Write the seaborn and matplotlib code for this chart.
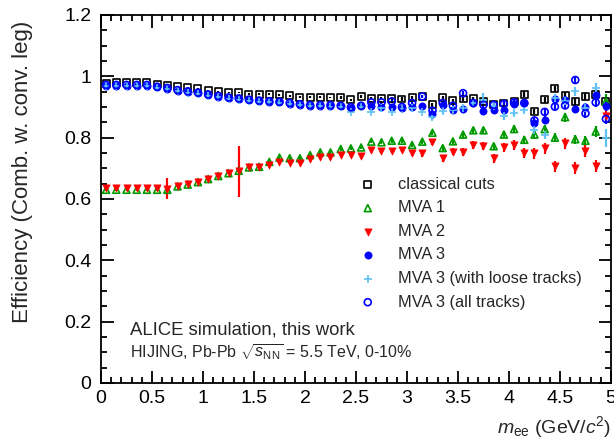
"""   Pair efficiency (combination with a conversion leg) vs m_ee for several selections   """
import matplotlib
matplotlib.use('Agg')
import matplotlib.pyplot as plt
import matplotlib.ticker as ticker
import seaborn as sns


# ~~~~~~~  Data   ~~~~~ ~~~~~~ ~~~~~~~ ~~~~~~~~~ ~~~~~~~~~~~~~ ~~~~~~~ ~ #
# bin centres in m_ee (GeV/c^2)
mass = [0.05, 0.15, 0.25, 0.35, 0.45, 0.55, 0.65, 0.75, 0.85, 0.95,
        1.05, 1.15, 1.25, 1.35, 1.45, 1.55, 1.65, 1.75, 1.85, 1.95,
        2.05, 2.15, 2.25, 2.35, 2.45, 2.55, 2.65, 2.75, 2.85, 2.95,
        3.05, 3.15, 3.25, 3.35, 3.45, 3.55, 3.65, 3.75, 3.85, 3.95,
        4.05, 4.15, 4.25, 4.35, 4.45, 4.55, 4.65, 4.75, 4.85, 4.95]

classical = [0.977, 0.979, 0.979, 0.979, 0.979, 0.975, 0.971, 0.966, 0.962, 0.960,
             0.953, 0.950, 0.948, 0.947, 0.942, 0.941, 0.942, 0.940, 0.937, 0.932,
             0.932, 0.932, 0.931, 0.931, 0.923, 0.934, 0.929, 0.929, 0.929, 0.926,
             0.932, 0.934, 0.907, 0.931, 0.921, 0.926, 0.927, 0.918, 0.907, 0.913,
             0.918, 0.942, 0.886, 0.924, 0.960, 0.937, 0.918, 0.935, 0.940, 0.917]
err_classical = [0.002, 0.002, 0.002, 0.002, 0.002, 0.002, 0.002, 0.002, 0.002, 0.002,
                 0.002, 0.002, 0.002, 0.003, 0.003, 0.003, 0.003, 0.003, 0.003, 0.003,
                 0.003, 0.003, 0.003, 0.004, 0.004, 0.004, 0.004, 0.004, 0.005, 0.005,
                 0.005, 0.005, 0.006, 0.006, 0.006, 0.007, 0.007, 0.007, 0.008, 0.008,
                 0.008, 0.009, 0.009, 0.010, 0.010, 0.011, 0.011, 0.012, 0.012, 0.013]

mva1 = [0.630, 0.630, 0.630, 0.630, 0.630, 0.630, 0.630, 0.641, 0.647, 0.655,
        0.665, 0.675, 0.684, 0.692, 0.703, 0.705, 0.721, 0.735, 0.733, 0.733,
        0.743, 0.752, 0.752, 0.763, 0.765, 0.768, 0.787, 0.785, 0.790, 0.790,
        0.776, 0.787, 0.816, 0.766, 0.788, 0.810, 0.824, 0.824, 0.772, 0.810,
        0.828, 0.793, 0.810, 0.828, 0.800, 0.867, 0.795, 0.790, 0.820, 0.918]
err_mva1 = [0.003, 0.003, 0.003, 0.003, 0.003, 0.004, 0.015, 0.010, 0.004, 0.004,
            0.004, 0.004, 0.004, 0.005, 0.005, 0.005, 0.005, 0.005, 0.005, 0.005,
            0.005, 0.005, 0.006, 0.006, 0.006, 0.006, 0.006, 0.007, 0.007, 0.007,
            0.007, 0.008, 0.008, 0.009, 0.009, 0.010, 0.010, 0.011, 0.011, 0.012,
            0.012, 0.013, 0.013, 0.014, 0.014, 0.015, 0.015, 0.016, 0.017, 0.025]

mva2 = [0.636, 0.636, 0.636, 0.636, 0.636, 0.636, 0.634, 0.643, 0.648, 0.656,
        0.666, 0.676, 0.685, 0.690, 0.703, 0.704, 0.711, 0.722, 0.718, 0.718,
        0.729, 0.736, 0.736, 0.743, 0.743, 0.740, 0.760, 0.757, 0.757, 0.760,
        0.749, 0.749, 0.787, 0.733, 0.754, 0.754, 0.776, 0.773, 0.733, 0.768,
        0.776, 0.751, 0.749, 0.765, 0.707, 0.782, 0.702, 0.757, 0.707, 0.870]
err_mva2 = [0.003, 0.003, 0.003, 0.003, 0.003, 0.004, 0.033, 0.004, 0.004, 0.004,
            0.004, 0.004, 0.004, 0.082, 0.005, 0.005, 0.005, 0.005, 0.005, 0.005,
            0.006, 0.006, 0.006, 0.006, 0.007, 0.007, 0.007, 0.008, 0.008, 0.008,
            0.009, 0.012, 0.010, 0.012, 0.012, 0.013, 0.013, 0.014, 0.015, 0.015,
            0.016, 0.016, 0.017, 0.017, 0.018, 0.018, 0.019, 0.020, 0.020, 0.022]

mva3 = [0.970, 0.970, 0.970, 0.970, 0.970, 0.964, 0.960, 0.953, 0.949, 0.945,
        0.939, 0.934, 0.929, 0.926, 0.922, 0.919, 0.917, 0.915, 0.911, 0.907,
        0.904, 0.904, 0.904, 0.902, 0.897, 0.902, 0.902, 0.899, 0.899, 0.897,
        0.899, 0.902, 0.878, 0.905, 0.889, 0.893, 0.913, 0.886, 0.891, 0.891,
        0.911, 0.913, 0.848, 0.858, 0.925, 0.924, 0.895, 0.900, 0.940, 0.902]
err_mva3 = [0.002, 0.002, 0.002, 0.002, 0.002, 0.002, 0.002, 0.002, 0.002, 0.002,
            0.003, 0.003, 0.003, 0.003, 0.003, 0.003, 0.003, 0.003, 0.003, 0.004,
            0.004, 0.004, 0.004, 0.004, 0.005, 0.005, 0.005, 0.005, 0.006, 0.006,
            0.006, 0.006, 0.007, 0.007, 0.008, 0.008, 0.008, 0.009, 0.009, 0.010,
            0.010, 0.011, 0.011, 0.012, 0.012, 0.013, 0.013, 0.014, 0.014, 0.015]

mva3_loose = [0.968, 0.968, 0.968, 0.968, 0.968, 0.962, 0.958, 0.951, 0.947, 0.943,
              0.937, 0.932, 0.927, 0.924, 0.920, 0.917, 0.915, 0.913, 0.909, 0.905,
              0.902, 0.902, 0.901, 0.899, 0.885, 0.900, 0.885, 0.897, 0.885, 0.895,
              0.897, 0.885, 0.866, 0.886, 0.891, 0.897, 0.913, 0.924, 0.902, 0.869,
              0.880, 0.891, 0.826, 0.810, 0.929, 0.918, 0.951, 0.897, 0.962, 0.799]
err_mva3_loose = [0.002, 0.002, 0.002, 0.002, 0.002, 0.002, 0.002, 0.002, 0.002, 0.002,
                  0.003, 0.003, 0.003, 0.003, 0.003, 0.003, 0.003, 0.003, 0.003, 0.004,
                  0.004, 0.004, 0.004, 0.004, 0.005, 0.005, 0.005, 0.005, 0.006, 0.006,
                  0.006, 0.006, 0.007, 0.008, 0.008, 0.009, 0.009, 0.020, 0.010, 0.011,
                  0.011, 0.012, 0.012, 0.013, 0.014, 0.015, 0.015, 0.016, 0.016, 0.030]

mva3_all = [0.972, 0.972, 0.972, 0.972, 0.972, 0.966, 0.962, 0.955, 0.951, 0.947,
            0.941, 0.936, 0.931, 0.928, 0.924, 0.921, 0.919, 0.917, 0.913, 0.909,
            0.906, 0.906, 0.906, 0.904, 0.899, 0.904, 0.915, 0.915, 0.918, 0.900,
            0.913, 0.934, 0.888, 0.913, 0.904, 0.945, 0.913, 0.907, 0.907, 0.910,
            0.915, 0.913, 0.856, 0.884, 0.901, 0.905, 0.988, 0.879, 0.915, 0.861]
err_mva3_all = [0.002, 0.002, 0.002, 0.002, 0.002, 0.002, 0.002, 0.002, 0.002, 0.002,
                0.003, 0.003, 0.003, 0.003, 0.003, 0.003, 0.003, 0.003, 0.003, 0.004,
                0.004, 0.004, 0.004, 0.004, 0.005, 0.005, 0.005, 0.005, 0.006, 0.006,
                0.006, 0.006, 0.007, 0.007, 0.008, 0.008, 0.008, 0.009, 0.009, 0.010,
                0.010, 0.011, 0.011, 0.012, 0.012, 0.013, 0.013, 0.014, 0.014, 0.015]

# label, values, errors, marker, colour, hollow?
series = [
    ('classical cuts', classical, err_classical, 's', 'black', True),
    ('MVA 1', mva1, err_mva1, '^', '#009a00', True),
    ('MVA 2', mva2, err_mva2, 'v', '#ff0000', False),
    ('MVA 3', mva3, err_mva3, 'o', '#0000ff', False),
    ('MVA 3 (with loose tracks)', mva3_loose, err_mva3_loose, '+', '#5ec2f7', False),
    ('MVA 3 (all tracks)', mva3_all, err_mva3_all, 'o', '#0000ff', True),
]


# ~~~~~~~  Style   ~~~~~ ~~~~~~ ~~~~~~~ ~~~~~~~~~ ~~~~~~~~~~~~~ ~~~~~~~ ~ #
sns.set_style('ticks')
plt.rcParams['font.family'] = ['Liberation Sans', 'DejaVu Sans']
plt.rcParams['mathtext.fontset'] = 'custom'
plt.rcParams['mathtext.rm'] = 'Liberation Sans'
plt.rcParams['mathtext.it'] = 'Liberation Sans:italic'
plt.rcParams['mathtext.bf'] = 'Liberation Sans:bold'

fig = plt.figure(figsize=(6.14, 4.46), dpi=100)
ax = fig.add_axes([0.1645, 0.1413, 0.8306, 0.8251])

# ~~~~~~~  Draw the series   ~~~~~ ~~~~~~ ~~~~~~~ ~~~~~~~~~ ~~~~~~~~~~~~~ ~~~~~~~ ~ #
for label, vals, errs, marker, color, hollow in series:
    ax.errorbar(mass, vals, yerr=errs, fmt='none', ecolor=color, elinewidth=1.6, capsize=0, zorder=2)
    if hollow:
        sns.scatterplot(x=mass, y=vals, marker=marker, s=25, facecolor='none', edgecolor=color,
                        linewidth=1.2, label=label, ax=ax, zorder=3)
    elif marker == '+':
        sns.scatterplot(x=mass, y=vals, marker=marker, s=36, color=color, linewidth=1.2,
                        label=label, ax=ax, zorder=3)
    else:
        sns.scatterplot(x=mass, y=vals, marker=marker, s=27, color=color, edgecolor=color,
                        linewidth=0.5, label=label, ax=ax, zorder=3)

# ~~~~~~~  Axes   ~~~~~ ~~~~~~ ~~~~~~~ ~~~~~~~~~ ~~~~~~~~~~~~~ ~~~~~~~ ~ #
ax.set_xlim(0, 5)
ax.set_ylim(0, 1.2)
ax.xaxis.set_major_locator(ticker.MultipleLocator(0.5))
ax.xaxis.set_minor_locator(ticker.MultipleLocator(0.1))
ax.yaxis.set_major_locator(ticker.MultipleLocator(0.2))
ax.yaxis.set_minor_locator(ticker.MultipleLocator(0.05))
fmt = ticker.FuncFormatter(lambda v, p: f'{v:g}')
ax.xaxis.set_major_formatter(fmt)
ax.yaxis.set_major_formatter(fmt)
ax.tick_params(which='both', direction='in', top=True, right=True, width=1.3, color='black',
               labelsize=14, labelcolor='black')
ax.tick_params(which='major', length=9)
ax.tick_params(which='minor', length=4.5)
ax.tick_params(axis='x', which='major', pad=5)
ax.tick_params(axis='y', which='major', pad=7)
for spine in ax.spines.values():
    spine.set_linewidth(1.3)
    spine.set_color('black')

ax.set_ylabel('Efficiency (Comb. w. conv. leg)', fontsize=16, loc='top')
ax.yaxis.set_label_coords(-0.133, 0.985)
ax.set_xlabel(r'$m_{\rm ee}$ (GeV/$c^{2}$)', fontsize=14, loc='right')
ax.xaxis.set_label_coords(1.0, -0.085)

# annotations
ax.text(0.057, 0.144, 'ALICE simulation, this work', transform=ax.transAxes,
        fontsize=13.3, va='center', ha='left')
ax.text(0.057, 0.084, r'HIJING, Pb-Pb $\sqrt{s_{\rm NN}}$ = 5.5 TeV, 0-10%', transform=ax.transAxes,
        fontsize=11.5, va='center', ha='left')

# legend
ax.legend(loc='upper left', bbox_to_anchor=(0.507, 0.56), frameon=False, fontsize=11.8,
          handlelength=1.0, handletextpad=1.34, labelspacing=0.52, borderpad=0, borderaxespad=0,
          scatterpoints=1)

fig.savefig('out.png', dpi=100)
